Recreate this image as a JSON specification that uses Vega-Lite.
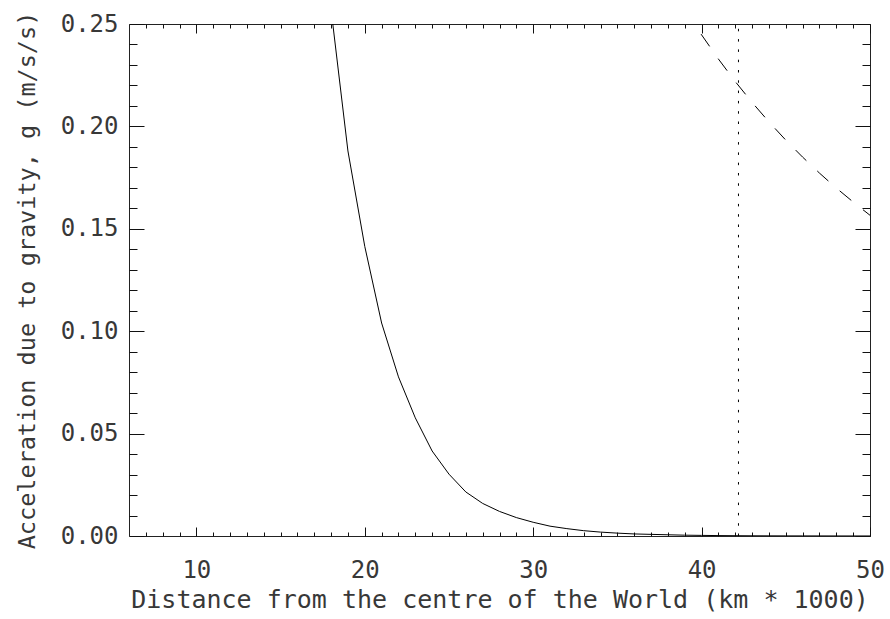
{
  "$schema": "https://vega.github.io/schema/vega-lite/v6.json",
  "width": 741,
  "height": 512,
  "autosize": {"type": "none"},
  "padding": {"left": 129, "top": 24, "right": 20, "bottom": 83},
  "background": "white",
  "config": {
    "view": {"stroke": "#222", "strokeWidth": 1},
    "axis": {
      "domain": false,
      "grid": false,
      "labelFont": "DejaVu Sans Mono",
      "titleFont": "DejaVu Sans Mono",
      "labelColor": "#383838",
      "titleColor": "#383838",
      "tickColor": "#111",
      "tickWidth": 1,
      "labelFontWeight": "normal",
      "titleFontWeight": "normal",
      "labelFontSize": 24,
      "titleFontSize": 25
    }
  },
  "datasets": {
    "inner": [
      {"r": 18, "g": 0.257},
      {"r": 19, "g": 0.188},
      {"r": 20, "g": 0.1414},
      {"r": 21, "g": 0.104},
      {"r": 22, "g": 0.0777},
      {"r": 23, "g": 0.0577},
      {"r": 24, "g": 0.0415},
      {"r": 25, "g": 0.0302},
      {"r": 26, "g": 0.0215},
      {"r": 27, "g": 0.0159},
      {"r": 28, "g": 0.012},
      {"r": 29, "g": 0.009},
      {"r": 30, "g": 0.0067},
      {"r": 31, "g": 0.0048},
      {"r": 32, "g": 0.0036},
      {"r": 33, "g": 0.0026},
      {"r": 34, "g": 0.0019},
      {"r": 35, "g": 0.0014},
      {"r": 36, "g": 0.001},
      {"r": 37, "g": 0.0008},
      {"r": 38, "g": 0.0006},
      {"r": 39, "g": 0.0004},
      {"r": 40, "g": 0.0003},
      {"r": 41, "g": 0.0002},
      {"r": 42, "g": 0.00015},
      {"r": 43, "g": 0.0001},
      {"r": 44, "g": 0.00008},
      {"r": 45, "g": 0.00006},
      {"r": 46, "g": 0.00005},
      {"r": 47, "g": 0.00004},
      {"r": 48, "g": 0.00003},
      {"r": 49, "g": 0.00002},
      {"r": 50, "g": 0.00002}
    ],
    "outer": [
      {"r": 39, "g": 0.2574},
      {"r": 40, "g": 0.2447},
      {"r": 41, "g": 0.2329},
      {"r": 42, "g": 0.2219},
      {"r": 43, "g": 0.2117},
      {"r": 44, "g": 0.2022},
      {"r": 45, "g": 0.1933},
      {"r": 46, "g": 0.185},
      {"r": 47, "g": 0.1772},
      {"r": 48, "g": 0.1699},
      {"r": 49, "g": 0.1631},
      {"r": 50, "g": 0.1566}
    ],
    "geo": [
      {"r": 42.19}
    ]
  },
  "layer": [
    {
      "data": {"name": "inner"},
      "mark": {"type": "line", "color": "#000", "strokeWidth": 1, "clip": true},
      "encoding": {
        "x": {
          "field": "r", "type": "quantitative",
          "scale": {"domain": [6, 50], "nice": false, "zero": false},
          "axis": {
            "orient": "bottom",
            "values": [10, 20, 30, 40, 50],
            "offset": -9,
            "tickSize": 9,
            "labelPadding": 41.5,
            "labelBaseline": "alphabetic",
            "labelFlush": false,
            "title": "Distance from the centre of the World (km * 1000)",
            "titleY": 80,
            "titleBaseline": "alphabetic"
          }
        },
        "y": {
          "field": "g", "type": "quantitative",
          "scale": {"domain": [0, 0.25], "nice": false, "zero": false},
          "axis": {
            "orient": "left",
            "values": [0, 0.05, 0.1, 0.15, 0.2, 0.25],
            "format": ".2f",
            "offset": -15,
            "tickSize": 15,
            "labelPadding": 11,
            "labelFlush": false,
            "title": "Acceleration due to gravity, g (m/s/s)",
            "titleFontSize": 23.5,
            "titleX": -110,
            "titleBaseline": "alphabetic"
          }
        }
      }
    },
    {
      "data": {"name": "outer"},
      "mark": {"type": "line", "color": "#000", "strokeWidth": 1, "strokeDash": [15, 15], "clip": true},
      "encoding": {
        "x": {
          "field": "r", "type": "quantitative",
          "scale": {"domain": [6, 50], "nice": false, "zero": false},
          "axis": {
            "orient": "bottom",
            "values": [7, 8, 9, 11, 12, 13, 14, 15, 16, 17, 18, 19, 21, 22, 23, 24, 25, 26, 27, 28, 29, 31, 32, 33, 34, 35, 36, 37, 38, 39, 41, 42, 43, 44, 45, 46, 47, 48, 49],
            "offset": -4,
            "tickSize": 4,
            "labels": false,
            "title": null
          }
        },
        "y": {
          "field": "g", "type": "quantitative",
          "scale": {"domain": [0, 0.25], "nice": false, "zero": false},
          "axis": {
            "orient": "left",
            "values": [0.01, 0.02, 0.03, 0.04, 0.06, 0.07, 0.08, 0.09, 0.11, 0.12, 0.13, 0.14, 0.16, 0.17, 0.18, 0.19, 0.21, 0.22, 0.23, 0.24],
            "offset": -8,
            "tickSize": 8,
            "labels": false,
            "title": null
          }
        }
      }
    },
    {
      "data": {"name": "geo"},
      "mark": {"type": "rule", "color": "#000", "strokeWidth": 1, "strokeDash": [2.5, 7.8]},
      "encoding": {
        "x": {
          "field": "r", "type": "quantitative",
          "scale": {"domain": [6, 50], "nice": false, "zero": false},
          "axis": {
            "orient": "top",
            "values": [10, 20, 30, 40, 50],
            "offset": -9,
            "tickSize": 9,
            "labels": false,
            "title": null
          }
        },
        "y": {
          "datum": 0, "type": "quantitative",
          "scale": {"domain": [0, 0.25], "nice": false, "zero": false},
          "axis": {
            "orient": "right",
            "values": [0, 0.05, 0.1, 0.15, 0.2, 0.25],
            "offset": -15,
            "tickSize": 15,
            "labels": false,
            "title": null
          }
        },
        "y2": {"datum": 0.25}
      }
    },
    {
      "data": {"name": "inner"},
      "mark": {"type": "line", "color": "#000", "strokeOpacity": 0, "clip": true},
      "encoding": {
        "x": {
          "field": "r", "type": "quantitative",
          "scale": {"domain": [6, 50], "nice": false, "zero": false},
          "axis": {
            "orient": "top",
            "values": [7, 8, 9, 11, 12, 13, 14, 15, 16, 17, 18, 19, 21, 22, 23, 24, 25, 26, 27, 28, 29, 31, 32, 33, 34, 35, 36, 37, 38, 39, 41, 42, 43, 44, 45, 46, 47, 48, 49],
            "offset": -4,
            "tickSize": 4,
            "labels": false,
            "title": null
          }
        },
        "y": {
          "field": "g", "type": "quantitative",
          "scale": {"domain": [0, 0.25], "nice": false, "zero": false},
          "axis": {
            "orient": "right",
            "values": [0.01, 0.02, 0.03, 0.04, 0.06, 0.07, 0.08, 0.09, 0.11, 0.12, 0.13, 0.14, 0.16, 0.17, 0.18, 0.19, 0.21, 0.22, 0.23, 0.24],
            "offset": -8,
            "tickSize": 8,
            "labels": false,
            "title": null
          }
        }
      }
    }
  ],
  "resolve": {"axis": {"x": "independent", "y": "independent"}}
}
